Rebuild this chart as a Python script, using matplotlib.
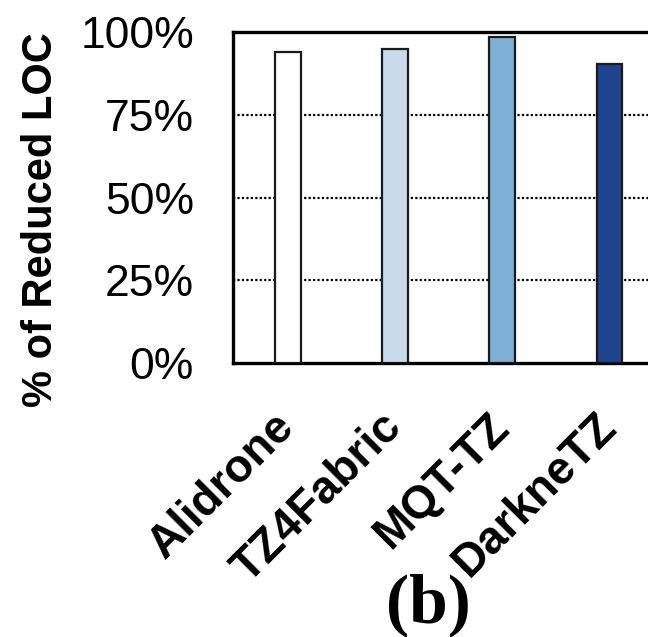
import matplotlib
matplotlib.use("Agg")
import matplotlib.pyplot as plt
from matplotlib.ticker import FixedLocator
from matplotlib.transforms import ScaledTranslation

categories = ["Alidrone", "TZ4Fabric", "MQT-TZ", "DarkneTZ"]
values = [93.9, 94.8, 98.6, 90.2]
colors = ["#ffffff", "#c9daec", "#7eafd4", "#1e448f"]
yticks = [0, 25, 50, 75, 100]
ytick_labels = ["0%", "25%", "50%", "75%", "100%"]

W, H = 648, 637
fig = plt.figure(figsize=(W / 100, H / 100), dpi=100)
left, right_px, top, bottom = 233, 233 + 4.01 * 107.3, 32, 363
ax = fig.add_axes([left / W, 1 - bottom / H, (right_px - left) / W, (bottom - top) / H])

x = list(range(len(categories)))
ax.bar(x, values, width=0.24, color=colors, edgecolor="#1a1a1a", linewidth=1.6, zorder=3)

ax.set_xlim(-0.51, 3.5)
ax.set_ylim(0, 100)
ax.yaxis.set_major_locator(FixedLocator(yticks))
ax.set_yticklabels(ytick_labels, fontsize=32, fontfamily="Liberation Sans")
for yv in yticks[1:-1]:
    ax.axhline(yv, color="black", linestyle=(0, (1, 1)), linewidth=1.6, zorder=1)

ax.set_xticks(x)
ax.set_xticklabels(categories, rotation=45, ha="right", va="top", rotation_mode="anchor",
                   fontsize=33, fontweight="bold", fontfamily="Liberation Sans")
ax.tick_params(axis="both", length=0)
ax.tick_params(axis="y", pad=28)
ax.tick_params(axis="x", pad=30)
offset = ScaledTranslation(-15 / 100, 0, fig.dpi_scale_trans)
for lbl in ax.get_xticklabels():
    lbl.set_transform(lbl.get_transform() + offset)

for s in ["left", "top", "bottom"]:
    ax.spines[s].set_linewidth(2.4)
    ax.spines[s].set_color("black")
ax.spines["right"].set_visible(False)

fig.text(41 / W, 1 - 220 / H, "% of Reduced LOC", rotation=90, ha="center", va="center",
         fontsize=30, fontweight="bold", fontfamily="Liberation Sans")
fig.text(428 / W, 1 - 622 / H, "(b)", ha="center", va="baseline",
         fontsize=50, fontweight="bold", fontfamily="Liberation Serif")

fig.savefig("out.png", dpi=100)
